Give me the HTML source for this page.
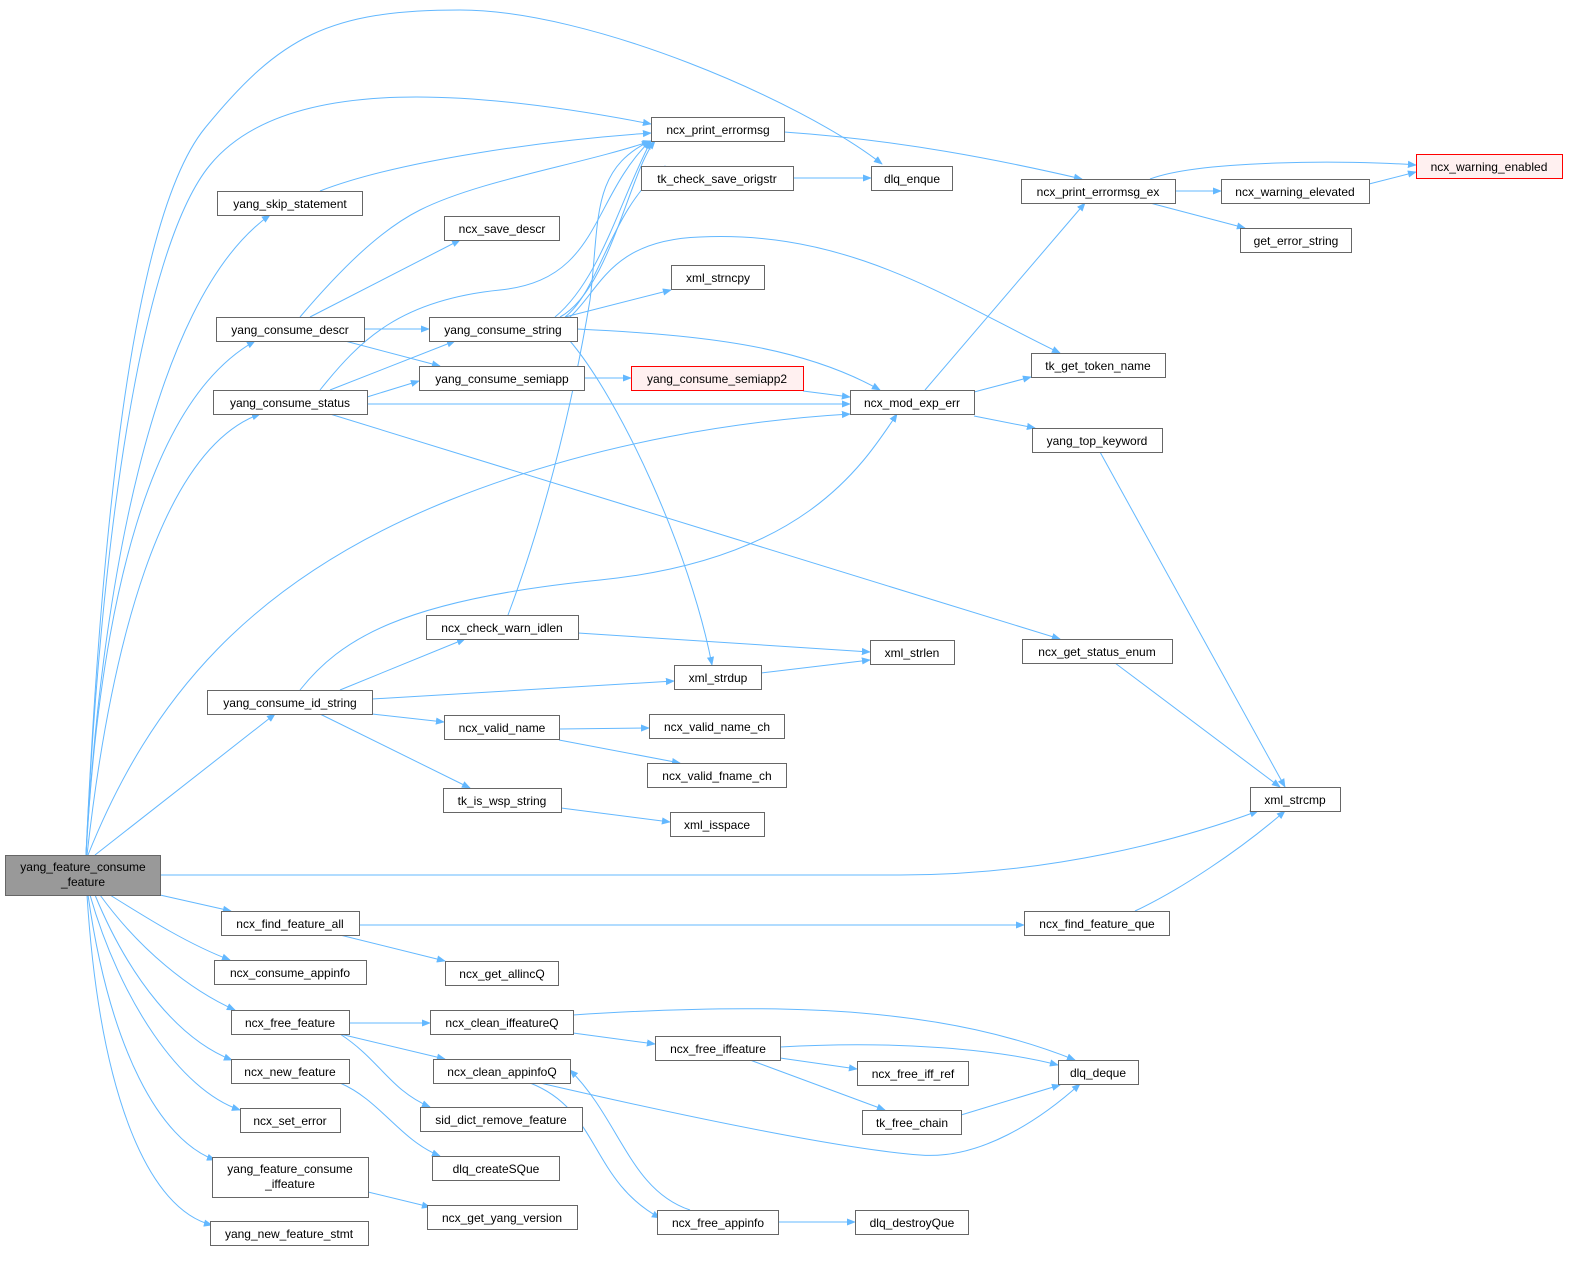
<!DOCTYPE html>
<html><head><meta charset="utf-8"><style>
html,body{margin:0;padding:0;background:#fff;}
svg{display:block;}
text{font-family:"Liberation Sans",Arial,sans-serif;font-size:12px;fill:#000;}
</style></head><body>
<svg width="1588" height="1268" viewBox="0 0 1588 1268" xmlns="http://www.w3.org/2000/svg">
<defs>
<marker id="a" viewBox="0 0 10 10" refX="9" refY="5" markerWidth="9" markerHeight="9" orient="auto" markerUnits="userSpaceOnUse">
<path d="M0,1 L10,5 L0,9 z" fill="#63b8ff"/></marker>
</defs>
<g fill="none" stroke="#63b8ff" stroke-width="1" marker-end="url(#a)">
<path d="M86,855 C100,550 130,220 205,128 S330,10 460,10 S800,100 882,164"/>
<path d="M86,855 C100,550 140,250 210,165 C280,80 450,85 651,124"/>
<path d="M86,855 C100,600 150,300 270,215"/>
<path d="M86,855 C100,600 150,400 255,341"/>
<path d="M87,855 C110,650 160,450 260,414"/>
<path d="M88,855 C150,700 250,580 450,500 C600,440 750,420 850,414"/>
<path d="M95,855 L275,714"/>
<path d="M160,875 L900,875 C1050,875 1180,840 1258,811"/>
<path d="M160,895 L231,911"/>
<path d="M110,895 C150,920 190,945 230,960"/>
<path d="M100,895 C140,950 190,990 235,1010"/>
<path d="M95,895 C130,980 180,1040 232,1060"/>
<path d="M90,895 C120,1000 180,1090 240,1110"/>
<path d="M88,895 C110,1050 160,1140 215,1160"/>
<path d="M87,895 C100,1100 150,1210 212,1225"/>
<path d="M320,191 C400,160 550,140 651,133"/>
<path d="M784,132 C900,140 1000,160 1082,179"/>
<path d="M793,178 L871,178"/>
<path d="M1150,179 C1200,160 1350,160 1416,165"/>
<path d="M1175,191 L1221,191"/>
<path d="M1369,184 L1416,172"/>
<path d="M1150,203 L1245,228"/>
<path d="M300,317 C340,270 380,230 420,210 C480,180 580,165 651,141"/>
<path d="M310,317 L460,240"/>
<path d="M364,329 L429,329"/>
<path d="M345,341 L440,366"/>
<path d="M555,317 C600,280 620,200 651,141"/>
<path d="M560,317 C610,290 630,170 655,141"/>
<path d="M565,317 C600,290 610,210 665,166"/>
<path d="M565,317 L671,290"/>
<path d="M570,317 C600,290 610,240 700,237 C850,230 950,300 1060,353"/>
<path d="M577,329 C700,335 800,345 880,390"/>
<path d="M570,341 C620,400 690,550 712,665"/>
<path d="M320,390 C360,340 400,300 500,290 C600,280 590,200 650,141"/>
<path d="M330,390 L455,341"/>
<path d="M367,397 L419,381"/>
<path d="M367,404 L850,404"/>
<path d="M330,414 L1060,639"/>
<path d="M584,378 L631,378"/>
<path d="M803,391 L850,397"/>
<path d="M925,390 L1085,203"/>
<path d="M974,392 L1031,377"/>
<path d="M974,416 L1035,428"/>
<path d="M1100,452 L1285,787"/>
<path d="M1115,663 L1280,787"/>
<path d="M1135,911 C1180,890 1240,850 1285,811"/>
<path d="M508,615 C540,530 570,420 590,300 C600,220 590,170 650,141"/>
<path d="M578,633 L870,652"/>
<path d="M761,673 L870,660"/>
<path d="M300,690 C340,640 400,600 600,580 C800,560 860,470 897,414"/>
<path d="M340,690 L465,639"/>
<path d="M372,699 L674,681"/>
<path d="M372,714 L444,722"/>
<path d="M320,714 L470,788"/>
<path d="M559,729 L649,728"/>
<path d="M559,740 L680,763"/>
<path d="M561,808 L670,822"/>
<path d="M359,925 L1024,925"/>
<path d="M340,935 L445,961"/>
<path d="M349,1023 L430,1023"/>
<path d="M340,1034 L445,1059"/>
<path d="M340,1034 C380,1060 390,1090 430,1107"/>
<path d="M573,1015 C800,1000 950,1010 1075,1060"/>
<path d="M573,1033 L655,1044"/>
<path d="M780,1047 C900,1040 1000,1050 1058,1065"/>
<path d="M780,1058 L857,1069"/>
<path d="M750,1060 L885,1110"/>
<path d="M961,1115 L1060,1085"/>
<path d="M540,1083 C700,1120 850,1150 920,1155 C980,1160 1040,1120 1080,1084"/>
<path d="M530,1083 C600,1110 590,1180 660,1218"/>
<path d="M690,1210 C630,1190 620,1120 570,1070"/>
<path d="M778,1222 L855,1222"/>
<path d="M340,1083 C380,1100 400,1140 440,1156"/>
<path d="M368,1192 L430,1207"/>
</g>
<g stroke="#666" stroke-width="1" fill="#fff">
<rect x="5.5" y="855.5" width="155" height="40" fill="#999"/>
<rect x="651.5" y="117.5" width="133" height="24"/>
<rect x="871.5" y="166.5" width="81" height="24"/>
<rect x="641.5" y="166.5" width="152" height="24"/>
<rect x="217.5" y="191.5" width="145" height="24"/>
<rect x="444.5" y="216.5" width="115" height="24"/>
<rect x="671.5" y="265.5" width="93" height="24"/>
<rect x="216.5" y="317.5" width="148" height="24"/>
<rect x="429.5" y="317.5" width="148" height="24"/>
<rect x="419.5" y="366.5" width="165" height="24"/>
<rect x="631.5" y="366.5" width="172" height="24" stroke="#f00" fill="#fff0f0"/>
<rect x="213.5" y="390.5" width="154" height="24"/>
<rect x="850.5" y="390.5" width="124" height="24"/>
<rect x="1021.5" y="179.5" width="154" height="24"/>
<rect x="1416.5" y="154.5" width="146" height="24" stroke="#f00" fill="#fff0f0"/>
<rect x="1221.5" y="179.5" width="148" height="24"/>
<rect x="1240.5" y="228.5" width="111" height="24"/>
<rect x="1031.5" y="353.5" width="134" height="24"/>
<rect x="1032.5" y="428.5" width="130" height="24"/>
<rect x="426.5" y="615.5" width="152" height="24"/>
<rect x="870.5" y="640.5" width="84" height="24"/>
<rect x="1022.5" y="639.5" width="150" height="24"/>
<rect x="674.5" y="665.5" width="87" height="24"/>
<rect x="207.5" y="690.5" width="165" height="24"/>
<rect x="444.5" y="715.5" width="115" height="24"/>
<rect x="649.5" y="714.5" width="135" height="24"/>
<rect x="647.5" y="763.5" width="139" height="24"/>
<rect x="443.5" y="788.5" width="118" height="24"/>
<rect x="670.5" y="812.5" width="94" height="24"/>
<rect x="1250.5" y="787.5" width="90" height="24"/>
<rect x="221.5" y="911.5" width="138" height="24"/>
<rect x="1024.5" y="911.5" width="145" height="24"/>
<rect x="214.5" y="960.5" width="152" height="24"/>
<rect x="445.5" y="961.5" width="113" height="24"/>
<rect x="231.5" y="1010.5" width="118" height="24"/>
<rect x="430.5" y="1010.5" width="143" height="24"/>
<rect x="655.5" y="1036.5" width="125" height="24"/>
<rect x="1058.5" y="1060.5" width="80" height="24"/>
<rect x="231.5" y="1059.5" width="118" height="24"/>
<rect x="433.5" y="1059.5" width="137" height="24"/>
<rect x="857.5" y="1061.5" width="111" height="24"/>
<rect x="240.5" y="1108.5" width="100" height="24"/>
<rect x="420.5" y="1107.5" width="162" height="24"/>
<rect x="862.5" y="1110.5" width="99" height="24"/>
<rect x="212.5" y="1157.5" width="156" height="40"/>
<rect x="432.5" y="1156.5" width="127" height="24"/>
<rect x="427.5" y="1205.5" width="150" height="24"/>
<rect x="657.5" y="1210.5" width="121" height="24"/>
<rect x="855.5" y="1210.5" width="113" height="24"/>
<rect x="210.5" y="1221.5" width="158" height="24"/>
</g>
<g text-anchor="middle">
<text x="83" y="871">yang_feature_consume</text><text x="83" y="886">_feature</text>
<text x="718" y="134">ncx_print_errormsg</text>
<text x="912" y="183">dlq_enque</text>
<text x="717" y="183">tk_check_save_origstr</text>
<text x="290" y="208">yang_skip_statement</text>
<text x="502" y="233">ncx_save_descr</text>
<text x="718" y="282">xml_strncpy</text>
<text x="290" y="334">yang_consume_descr</text>
<text x="503" y="334">yang_consume_string</text>
<text x="502" y="383">yang_consume_semiapp</text>
<text x="717" y="383">yang_consume_semiapp2</text>
<text x="290" y="407">yang_consume_status</text>
<text x="912" y="407">ncx_mod_exp_err</text>
<text x="1098" y="196">ncx_print_errormsg_ex</text>
<text x="1489" y="171">ncx_warning_enabled</text>
<text x="1295" y="196">ncx_warning_elevated</text>
<text x="1296" y="245">get_error_string</text>
<text x="1098" y="370">tk_get_token_name</text>
<text x="1097" y="445">yang_top_keyword</text>
<text x="502" y="632">ncx_check_warn_idlen</text>
<text x="912" y="657">xml_strlen</text>
<text x="1097" y="656">ncx_get_status_enum</text>
<text x="718" y="682">xml_strdup</text>
<text x="290" y="707">yang_consume_id_string</text>
<text x="502" y="732">ncx_valid_name</text>
<text x="717" y="731">ncx_valid_name_ch</text>
<text x="717" y="780">ncx_valid_fname_ch</text>
<text x="502" y="805">tk_is_wsp_string</text>
<text x="717" y="829">xml_isspace</text>
<text x="1295" y="804">xml_strcmp</text>
<text x="290" y="928">ncx_find_feature_all</text>
<text x="1097" y="928">ncx_find_feature_que</text>
<text x="290" y="977">ncx_consume_appinfo</text>
<text x="502" y="978">ncx_get_allincQ</text>
<text x="290" y="1027">ncx_free_feature</text>
<text x="502" y="1027">ncx_clean_iffeatureQ</text>
<text x="718" y="1053">ncx_free_iffeature</text>
<text x="1098" y="1077">dlq_deque</text>
<text x="290" y="1076">ncx_new_feature</text>
<text x="502" y="1076">ncx_clean_appinfoQ</text>
<text x="913" y="1078">ncx_free_iff_ref</text>
<text x="290" y="1125">ncx_set_error</text>
<text x="501" y="1124">sid_dict_remove_feature</text>
<text x="912" y="1127">tk_free_chain</text>
<text x="290" y="1173">yang_feature_consume</text><text x="290" y="1188">_iffeature</text>
<text x="496" y="1173">dlq_createSQue</text>
<text x="502" y="1222">ncx_get_yang_version</text>
<text x="718" y="1227">ncx_free_appinfo</text>
<text x="912" y="1227">dlq_destroyQue</text>
<text x="289" y="1238">yang_new_feature_stmt</text>
</g>
</svg>
</body></html>
